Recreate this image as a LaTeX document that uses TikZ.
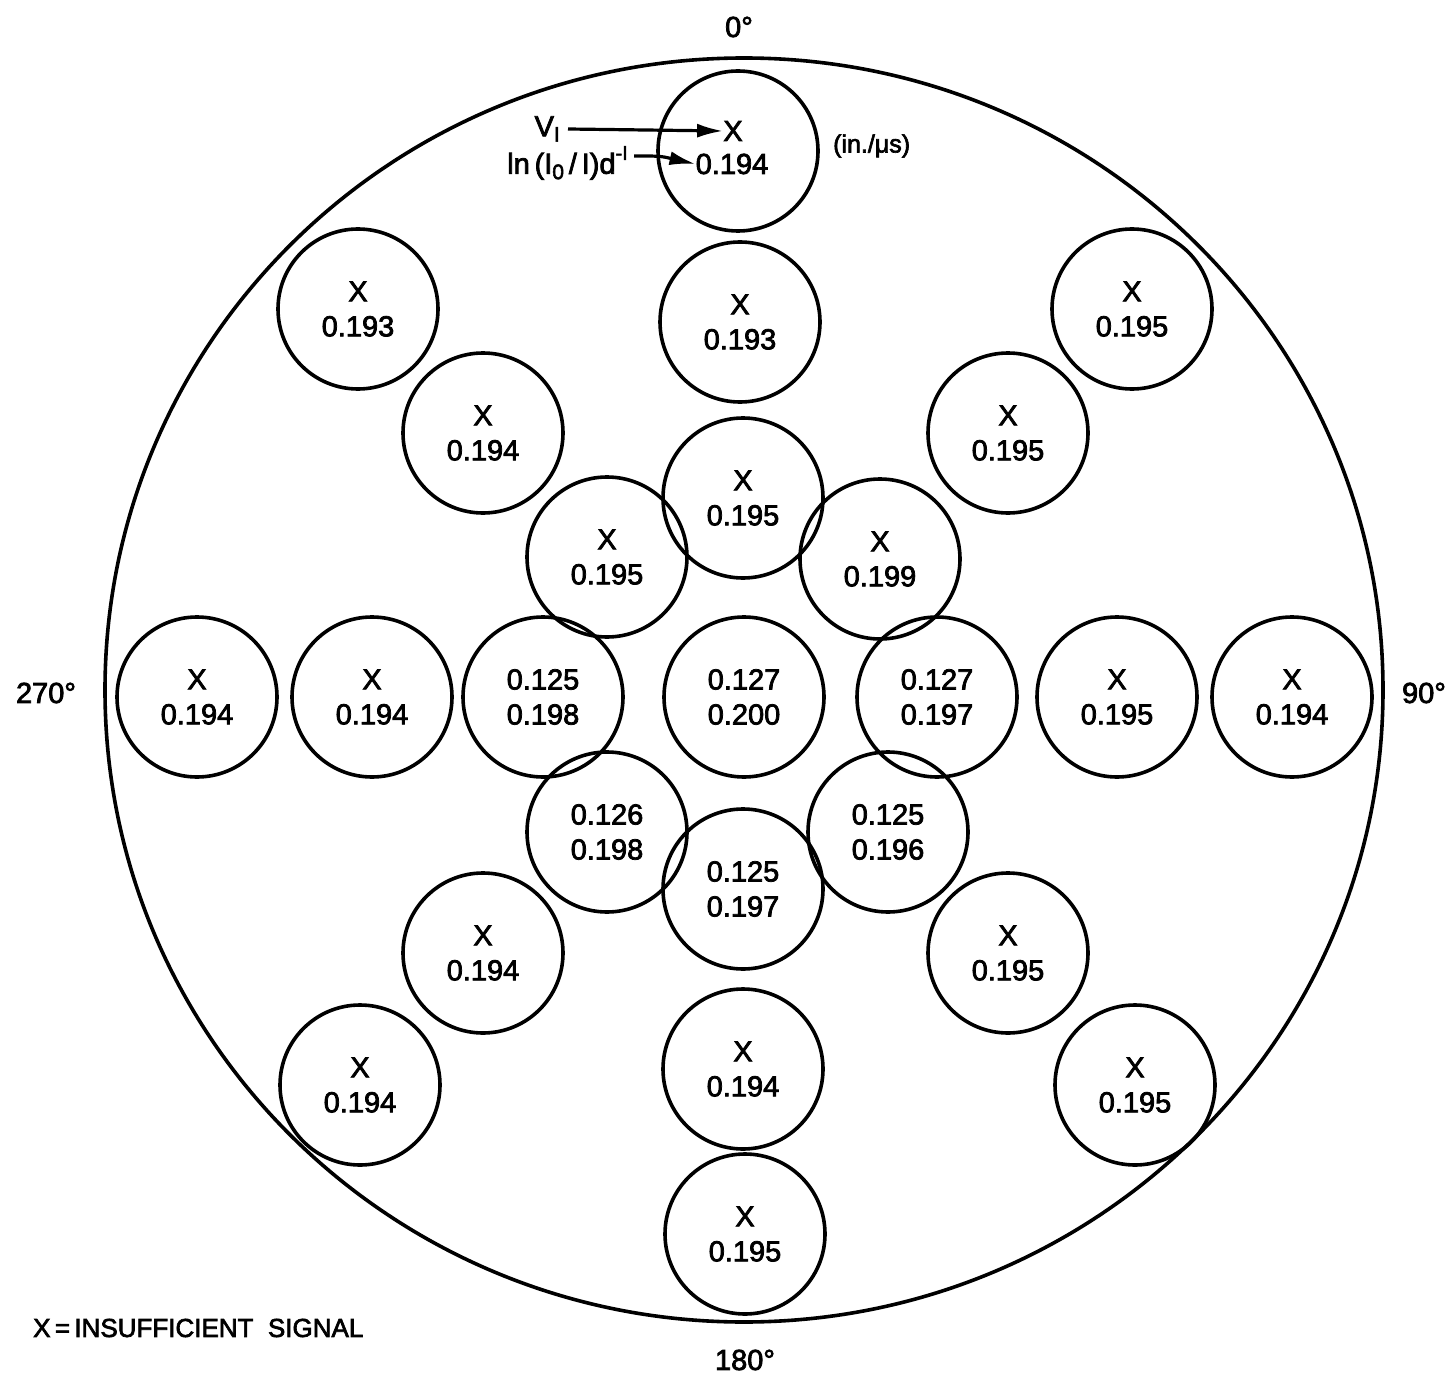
\documentclass[tikz,border=0pt]{standalone}
\usepackage{fontspec}
\setmainfont{Liberation Sans}[FakeBold=2.6]
\usetikzlibrary{arrows.meta}
\newcommand\mysubs[1]{\raisebox{-0.35ex}{\fontsize{21}{21}\selectfont #1}}
\newcommand\mysups[1]{\raisebox{0.9ex}{\fontsize{20}{20}\selectfont #1}}
\tikzset{
  cell/.style={draw, circle, line width=3.6pt, minimum size=160pt, inner sep=0pt,
    align=center, font=\fontsize{29}{35}\selectfont},
  lbl/.style={inner sep=0pt, font=\fontsize{29}{35}\selectfont},
  arr/.style={line width=3.2pt, -{Latex[length=26pt,width=14pt]}}
}
\begin{document}
\begin{tikzpicture}[x=1pt,y=-1pt]
\useasboundingbox (0,0) rectangle (1452,1375);
% outer circle
\draw[line width=3.6pt] (744,690) ellipse [x radius=639pt, y radius=632pt];
% top circle with separate labels
\node[cell] (c0) at (738,151) {};
\node[lbl] (c0x) at (733,131) {X};
\node[lbl] (c0v) at (732,164) {0.194};
\node[lbl, anchor=east] (vl) at (560,129) {V\mysubs{I}};
\node[lbl, anchor=east] (ln) at (628,163) {ln\,(I\mysubs{0}\,/\,I)d\mysups{-I}};
\node[lbl, anchor=west, font=\fontsize{25}{30}\selectfont] (unit) at (833,146) {(in./μs)};
\draw[arr] (vl.east) ++(8pt,0) coordinate (vs) (vs) -- (c0x.west);
\coordinate (ls) at (634,156);
\draw[arr] (ls) .. controls (660,156) .. (c0v.west);
% vertical column
\node[cell] (c1) at (740,322) {X\\0.193};
\node[cell] (c2) at (743,498) {X\\0.195};
\node[cell] (c3) at (744,697) {0.127\\0.200};
\node[cell] (c4) at (743,889) {0.125\\0.197};
\node[cell] (c5) at (743,1069) {X\\0.194};
\node[cell] (c6) at (745,1234) {X\\0.195};
% upper left diagonal
\node[cell] (ul1) at (358,309) {X\\0.193};
\node[cell] (ul2) at (483,433) {X\\0.194};
\node[cell] (ul3) at (607,557) {X\\0.195};
% upper right diagonal
\node[cell] (ur1) at (1132,309) {X\\0.195};
\node[cell] (ur2) at (1008,433) {X\\0.195};
\node[cell] (ur3) at (880,559) {X\\0.199};
% horizontal row
\node[cell] (h1) at (197,697) {X\\0.194};
\node[cell] (h2) at (372,697) {X\\0.194};
\node[cell] (h3) at (543,697) {0.125\\0.198};
\node[cell] (h4) at (937,697) {0.127\\0.197};
\node[cell] (h5) at (1117,697) {X\\0.195};
\node[cell] (h6) at (1292,697) {X\\0.194};
% lower left diagonal
\node[cell] (ll1) at (607,832) {0.126\\0.198};
\node[cell] (ll2) at (483,953) {X\\0.194};
\node[cell] (ll3) at (360,1085) {X\\0.194};
% lower right diagonal
\node[cell] (lr1) at (888,832) {0.125\\0.196};
\node[cell] (lr2) at (1008,953) {X\\0.195};
\node[cell] (lr3) at (1135,1085) {X\\0.195};
% angle labels
\node[lbl] (a0) at (739,27) {0°};
\node[lbl] (a90) at (1424,693) {90°};
\node[lbl] (a180) at (745,1360) {180°};
\node[lbl] (a270) at (46,693) {270°};
% legend
\node[lbl, anchor=west, font=\fontsize{26}{30}\selectfont] (leg) at (33,1328) {X\,=\,INSUFFICIENT\ \ SIGNAL};
\end{tikzpicture}
\end{document}
